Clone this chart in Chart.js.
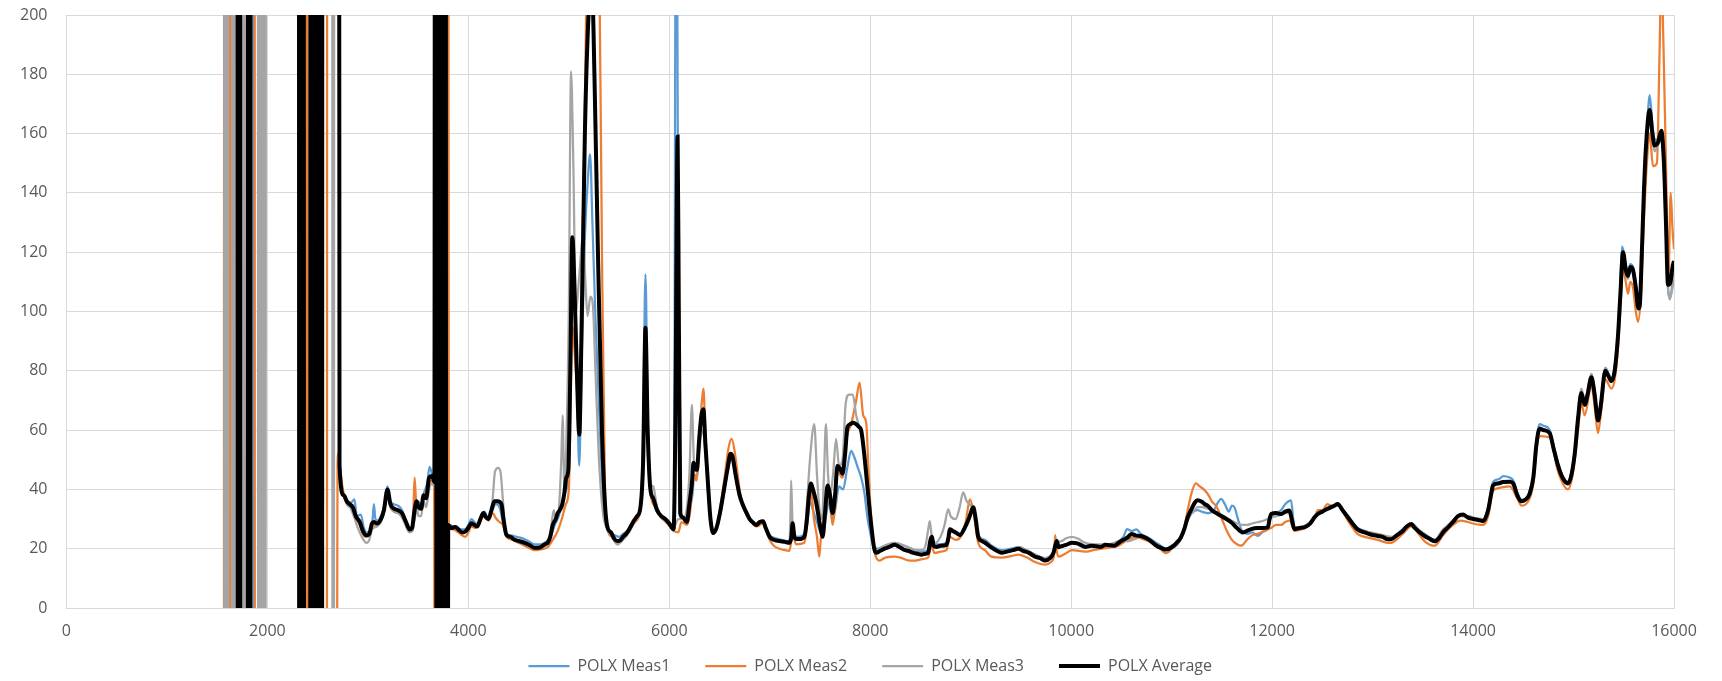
<!DOCTYPE html>
<html>
<head>
<meta charset="utf-8">
<title>POLX</title>
<script src="https://cdn.jsdelivr.net/npm/chart.js@4.4.1/dist/chart.umd.min.js"></script>
<style>
    body { margin: 0; background: #ffffff; }
    #contenedor { width: 1722px; height: 681px; }
</style>
</head>
<body>
<div id="contenedor"><canvas id="polxChart"></canvas></div>
<script>
// Ejes
const xTicks = [0, 16000, 2000];   // min, max, paso
const yTicks = [0, 200, 20];

const etiquetas = ['POLX Meas1', 'POLX Meas2', 'POLX Meas3', 'POLX Average'];

// Medicion 1 (puntos [x, y]); +-1000 = valores fuera de escala
const polxMeas1 = [
    [1845, 1000], [1852, -1000], [1860, 1000],
    [2700, 1000], [2716, 45], [2740, 41], [2770, 37], [2800, 36], [2830, 35.5], [2866, 36.6], [2890, 31], [2930, 31.5],
    [2960, 27], [2990, 25.5], [3020, 26], [3045, 29], [3060, 35], [3075, 30], [3100, 29.5], [3130, 31], [3160, 34],
    [3195, 41], [3225, 36], [3260, 35], [3300, 34.5], [3340, 33], [3380, 29], [3415, 27], [3445, 28], [3470, 33],
    [3500, 36], [3530, 35], [3560, 39], [3590, 42], [3614, 47.6], [3640, 45], [3660, 43],
    [3680, 1000], [3720, -1000], [3760, 1000], [3790, -1000],
    [3805, 28], [3840, 27.5], [3880, 27.5], [3920, 26.5], [3960, 26.5], [4000, 28], [4030, 30], [4060, 29], [4100, 28],
    [4130, 30.5], [4160, 32.5], [4200, 30], [4240, 33], [4270, 35], [4310, 34], [4345, 29], [4380, 25], [4430, 24.5],
    [4480, 24], [4540, 23.5], [4600, 22.5], [4660, 21.5], [4720, 21.5], [4780, 22.5], [4820, 24], [4860, 28], [4900, 31],
    [4940, 36], [4975, 40], [4995, 44], [5015, 80], [5035, 118], [5060, 100], [5085, 70], [5104, 48], [5125, 80],
    [5160, 125], [5190, 145], [5212, 153], [5235, 130], [5265, 98], [5300, 68], [5340, 38], [5384, 27], [5420, 25],
    [5460, 24.5], [5500, 24], [5540, 25], [5580, 26], [5620, 28], [5670, 30.5], [5713, 34], [5740, 60], [5763, 112.5],
    [5785, 65], [5812, 42], [5850, 37], [5900, 32], [5960, 30], [6010, 28.5], [6045, 26], [6070, 300], [6098, 32],
    [6135, 30], [6175, 28.5], [6200, 33], [6230, 38], [6250, 45], [6275, 44], [6300, 55], [6330, 64], [6345, 63],
    [6370, 48], [6395, 35], [6438, 26], [6480, 28], [6520, 34], [6560, 42], [6600, 50], [6630, 50.5], [6670, 43],
    [6720, 36], [6770, 32], [6820, 29.5], [6870, 28.5], [6933, 29.5], [6960, 27], [7000, 24.5], [7060, 23.5], [7120, 23],
    [7196, 22.5], [7228, 27], [7262, 24], [7330, 24.5], [7370, 28], [7400, 36], [7430, 33], [7460, 30], [7500, 26],
    [7530, 25], [7560, 31], [7590, 36], [7620, 30], [7650, 33], [7690, 41], [7730, 40], [7770, 47], [7810, 53],
    [7840, 51], [7880, 47], [7910, 44], [7943, 38.6], [7970, 31], [7993, 26.6], [8030, 21], [8070, 20], [8143, 21],
    [8243, 22], [8300, 21.5], [8376, 20.5], [8450, 19.5], [8509, 19], [8576, 19.5], [8610, 23], [8640, 21.5], [8700, 21.5],
    [8759, 22], [8792, 26], [8850, 25.5], [8900, 25], [8950, 27.5], [8990, 31], [9025, 34], [9075, 24.5], [9142, 23],
    [9210, 21], [9308, 19.5], [9400, 20], [9474, 20.5], [9560, 19.5], [9641, 18], [9741, 16.5], [9800, 17.5], [9824, 19],
    [9857, 22.5], [9880, 21], [9950, 21.5], [10007, 22], [10080, 22], [10140, 21], [10220, 21.5], [10300, 21],
    [10380, 21.5], [10470, 22.5], [10520, 24], [10556, 26.6], [10600, 26], [10650, 26.5], [10694, 25], [10750, 24],
    [10800, 23], [10870, 21.5], [10944, 20], [11000, 21], [11060, 22.5], [11100, 25], [11140, 28], [11180, 31],
    [11220, 32.5], [11259, 33], [11300, 32.5], [11359, 32], [11420, 33], [11460, 35.5], [11492, 36.8], [11530, 35],
    [11570, 32.5], [11600, 34.5], [11625, 34], [11660, 30], [11700, 26], [11760, 25], [11800, 25.5], [11858, 24.3],
    [11900, 25.5], [11957, 27], [11990, 31], [12040, 32], [12090, 33], [12130, 35], [12189, 36.3], [12210, 30],
    [12223, 27], [12300, 27.5], [12380, 29], [12455, 32], [12520, 33], [12588, 34], [12654, 35], [12700, 33.5],
    [12754, 31], [12850, 27], [12920, 26], [13053, 24.5], [13186, 23.5], [13300, 26.5], [13385, 28.5], [13470, 26],
    [13518, 24.8], [13618, 23], [13700, 26], [13751, 27.5], [13800, 29.5], [13870, 31], [13950, 31], [14000, 30.5],
    [14100, 29.5], [14150, 34], [14199, 42.5], [14260, 43.5], [14300, 44.5], [14365, 44], [14400, 43], [14440, 39],
    [14481, 36.5], [14530, 37], [14564, 39.5], [14600, 45], [14630, 56], [14663, 62], [14700, 61.5], [14763, 60],
    [14800, 55], [14846, 49], [14890, 44.5], [14945, 42.5], [14980, 46], [15012, 53], [15045, 65], [15078, 73],
    [15111, 70], [15140, 73], [15178, 79], [15210, 73], [15244, 64], [15270, 69], [15317, 81], [15350, 79], [15377, 77.5],
    [15410, 82], [15443, 94], [15465, 108], [15483, 122], [15520, 116], [15542, 113], [15565, 116], [15592, 115],
    [15620, 109], [15645, 102], [15670, 108], [15700, 135], [15730, 160], [15758, 173], [15785, 163], [15808, 158],
    [15840, 158], [15874, 161], [15900, 148], [15920, 128], [15945, 106], [15965, 105], [15985, 110], [16000, 113]
];

// Medicion 2
const polxMeas2 = [
    [1565, -1000], [1572, 1000], [1580, -1000],
    [1610, -1000], [1622, 1000], [1634, -1000],
    [1680, -1000], [1692, 1000],
    [1870, 1000], [1880, -1000],
    [2378, -1000], [2390, 1000], [2402, -1000],
    [2588, -1000], [2598, 1000],
    [2650, 1000], [2662, -1000],
    [2700, 52], [2730, 45], [2760, 38], [2800, 35], [2850, 33], [2880, 30], [2920, 28], [2950, 25], [2985, 24],
    [3015, 24.5], [3040, 27.5], [3090, 28], [3130, 29.5], [3160, 32], [3195, 39], [3225, 34], [3260, 32.5], [3300, 32],
    [3340, 31], [3380, 28], [3415, 26], [3440, 27], [3455, 35], [3465, 44], [3480, 36], [3505, 34], [3555, 37],
    [3610, 42], [3640, 43], [3660, 41],
    [3680, -1000], [3720, 1000], [3760, -1000], [3790, 1000],
    [3805, 27], [3850, 26.5], [3900, 25.5], [3940, 24.5], [3970, 24], [4000, 25.5], [4030, 27.5], [4070, 27],
    [4120, 29], [4150, 31], [4200, 29.5], [4240, 32], [4280, 30], [4310, 29], [4345, 28], [4380, 24], [4440, 23],
    [4500, 22], [4560, 21], [4620, 20], [4660, 19.5], [4720, 19.8], [4790, 20.5], [4840, 23], [4890, 26], [4930, 30],
    [4970, 35], [5000, 40], [5035, 95], [5070, 80], [5104, 65], [5130, 110], [5160, 170], [5190, 240], [5250, 280],
    [5300, 230], [5330, 120], [5360, 40], [5390, 26], [5430, 24], [5483, 21.5], [5540, 23.5], [5600, 26], [5660, 29],
    [5713, 33], [5740, 45], [5763, 80], [5790, 50], [5812, 39], [5860, 34], [5920, 30.5], [5980, 28.5], [6043, 26],
    [6090, 25.5], [6120, 29], [6175, 28], [6210, 33], [6241, 45], [6270, 43], [6300, 58], [6325, 70], [6340, 74],
    [6360, 58], [6389, 40], [6420, 27], [6438, 25], [6470, 27], [6504, 33], [6550, 44], [6590, 54], [6620, 57],
    [6650, 53], [6700, 40], [6735, 34], [6800, 30], [6867, 27.5], [6933, 28.5], [6999, 23], [7040, 21], [7097, 20],
    [7150, 19.5], [7196, 19.3], [7228, 25], [7262, 21.5], [7344, 22], [7390, 34], [7410, 40], [7440, 30], [7470, 24],
    [7493, 17.3], [7510, 24], [7540, 30], [7575, 38], [7600, 36], [7625, 28], [7650, 34], [7674, 46], [7724, 44],
    [7770, 58], [7810, 62], [7860, 70], [7894, 76], [7930, 65], [7960, 62.5], [7985, 45], [8010, 30], [8050, 18],
    [8093, 16], [8150, 17], [8243, 17.3], [8300, 17], [8393, 16], [8450, 16], [8520, 16.5], [8576, 17], [8610, 21],
    [8640, 18.5], [8700, 19], [8759, 19.5], [8792, 24], [8850, 23], [8900, 24], [8950, 29], [8992, 36.6], [9025, 33],
    [9075, 22], [9142, 19.5], [9208, 17.3], [9308, 17], [9400, 17.5], [9474, 18], [9560, 17], [9641, 15.5],
    [9741, 14.6], [9800, 15.5], [9830, 18], [9841, 24.6], [9858, 19], [9874, 17.3], [9950, 18.5], [10007, 19.5],
    [10140, 19], [10220, 19.5], [10300, 20], [10400, 20.5], [10470, 21], [10562, 23], [10650, 24], [10694, 23.5],
    [10800, 22], [10900, 19.5], [10944, 18.5], [11000, 20], [11050, 22.5], [11093, 24], [11130, 28], [11160, 33],
    [11200, 39], [11242, 42], [11280, 41], [11320, 40], [11359, 38.5], [11400, 36], [11450, 34], [11500, 30],
    [11550, 26], [11600, 23], [11650, 21.5], [11691, 21], [11750, 23], [11800, 24.5], [11860, 25], [11920, 26],
    [11957, 26.5], [11990, 27], [12040, 28], [12090, 28], [12130, 29], [12173, 29.5], [12223, 26], [12322, 27],
    [12420, 30], [12455, 33], [12500, 33], [12550, 35], [12588, 34.5], [12654, 35], [12754, 29.5], [12850, 25],
    [12920, 24], [13053, 23], [13150, 22], [13186, 22], [13300, 25], [13385, 27.5], [13470, 24.5], [13518, 22.5],
    [13618, 21], [13700, 24.5], [13751, 26.5], [13800, 28], [13870, 29.5], [13950, 29], [14000, 28.5], [14100, 28],
    [14150, 31], [14199, 39.5], [14260, 40.5], [14365, 41], [14440, 37], [14481, 34.5], [14564, 37], [14600, 42],
    [14630, 53], [14663, 58], [14763, 57.5], [14846, 46], [14945, 40], [14980, 43], [15012, 50], [15045, 60],
    [15078, 69], [15111, 65], [15178, 75], [15210, 68], [15244, 59], [15270, 65], [15317, 77], [15377, 74],
    [15410, 77], [15443, 88], [15465, 100], [15493, 115], [15520, 110], [15542, 106], [15565, 110], [15592, 108],
    [15620, 100], [15642, 96.5], [15670, 105], [15700, 130], [15730, 150], [15758, 160], [15791, 149], [15830, 150],
    [15855, 185], [15874, 215], [15895, 190], [15920, 150], [15945, 112], [15967, 140], [15985, 128], [16000, 121]
];

// Medicion 3
const polxMeas3 = [
    [1565, 1000], [1580, -1000], [1600, 1000], [1620, -1000],
    [1640, -1000], [1655, 1000], [1670, -1000], [1690, 1000],
    [1750, 1000], [1770, -1000], [1790, 1000],
    [1900, 1000], [1915, -1000], [1930, 1000], [1945, -1000], [1960, 1000], [1975, -1000], [1990, 1000],
    [2640, 1000], [2655, -1000], [2670, 1000],
    [2700, 1000], [2722, 45], [2750, 39], [2790, 35], [2830, 33.5], [2860, 31], [2900, 27], [2940, 24], [2985, 22],
    [3015, 23], [3040, 26.5], [3090, 27.5], [3130, 29], [3160, 32], [3195, 39], [3225, 34], [3260, 32.5], [3300, 32],
    [3340, 30.5], [3380, 27.5], [3415, 25.5], [3445, 26], [3465, 30], [3490, 33], [3505, 31], [3530, 31], [3555, 36],
    [3580, 34], [3610, 40], [3640, 42], [3660, 41],
    [3680, 1000], [3720, -1000], [3760, 1000], [3790, -1000],
    [3805, 28], [3850, 27.5], [3900, 26.5], [3940, 25.5], [3970, 25.5], [4000, 27], [4030, 28.5], [4060, 28],
    [4120, 30], [4150, 32], [4200, 30], [4240, 36], [4265, 46], [4296, 47.3], [4320, 46], [4345, 36], [4370, 26],
    [4420, 23.5], [4480, 22.5], [4540, 21.8], [4600, 21], [4660, 20.3], [4720, 20.5], [4790, 22], [4820, 26],
    [4850, 33], [4870, 30], [4900, 33], [4925, 50], [4939, 65], [4955, 40], [4975, 55], [5000, 100], [5022, 181],
    [5045, 150], [5070, 100], [5104, 112], [5140, 125], [5165, 110], [5186, 98.5], [5215, 105], [5240, 102],
    [5265, 80], [5300, 50], [5340, 32], [5384, 26.5], [5420, 24.5], [5483, 21.5], [5540, 23], [5600, 25.5],
    [5660, 29.5], [5713, 34], [5740, 55], [5763, 88], [5785, 60], [5812, 42], [5840, 41], [5878, 34], [5940, 30],
    [6000, 28.5], [6043, 27], [6090, 30], [6125, 30], [6160, 31], [6200, 45], [6225, 68.5], [6245, 50], [6274, 46],
    [6300, 54], [6330, 60], [6345, 58], [6370, 48], [6395, 35], [6438, 25], [6470, 27], [6504, 31], [6540, 38],
    [6580, 46], [6620, 50], [6660, 44], [6700, 37], [6770, 31.5], [6840, 28.5], [6900, 29], [6933, 29], [6999, 23.5],
    [7097, 22.5], [7196, 22], [7205, 30], [7213, 43], [7225, 30], [7245, 23.5], [7300, 23], [7344, 24], [7370, 35],
    [7400, 50], [7443, 62], [7470, 45], [7490, 35], [7520, 30], [7540, 45], [7559, 62], [7580, 45], [7600, 38],
    [7630, 45], [7660, 57], [7690, 48], [7724, 50], [7756, 69], [7790, 72], [7827, 72], [7860, 65], [7900, 60],
    [7940, 52], [7980, 38], [8010, 28], [8040, 20], [8060, 19.5], [8143, 21], [8243, 22], [8300, 21.5], [8376, 20.5],
    [8450, 19.5], [8509, 19.5], [8550, 21], [8575, 26], [8592, 29.3], [8610, 25], [8650, 22], [8700, 24], [8740, 28],
    [8776, 33.3], [8800, 31], [8850, 30], [8890, 34], [8925, 39], [8960, 36], [8990, 35], [9025, 33], [9075, 25],
    [9142, 22.5], [9210, 20.5], [9308, 19], [9400, 19.5], [9474, 20.5], [9560, 19.5], [9641, 18], [9741, 16.8],
    [9824, 19], [9857, 22], [9900, 22.5], [9950, 23.5], [10007, 24], [10060, 23.5], [10140, 22], [10220, 21.5],
    [10300, 21.5], [10400, 21.5], [10470, 22.5], [10520, 23], [10562, 22.5], [10650, 23.5], [10694, 24], [10750, 23.5],
    [10800, 22.5], [10870, 20.5], [10944, 19.8], [11000, 20], [11060, 21.5], [11100, 24], [11140, 28], [11180, 31.5],
    [11230, 33], [11259, 34], [11300, 34], [11359, 33.5], [11420, 33], [11459, 32], [11520, 31], [11592, 29.5],
    [11650, 28.5], [11708, 28], [11750, 28], [11800, 28.5], [11860, 29], [11920, 29.5], [11957, 30], [11990, 30.5],
    [12040, 31], [12090, 31.5], [12130, 32], [12173, 32], [12223, 27], [12322, 27.5], [12420, 30.5], [12455, 32],
    [12550, 33], [12654, 34.5], [12754, 30.5], [12850, 27], [12920, 26], [12980, 25.5], [13053, 25], [13186, 24],
    [13300, 26.5], [13385, 28.5], [13470, 26], [13518, 25], [13618, 23], [13700, 26.5], [13751, 28], [13800, 29.5],
    [13870, 31], [13950, 31], [14000, 30.5], [14100, 30], [14150, 33.5], [14199, 41.5], [14260, 42], [14365, 42.5],
    [14440, 38.5], [14481, 36.5], [14564, 39], [14600, 44], [14630, 55], [14663, 60.5], [14763, 59], [14846, 48.5],
    [14945, 42], [14980, 45.5], [15012, 52.5], [15045, 65], [15078, 74], [15111, 70], [15178, 79], [15210, 73],
    [15244, 64], [15270, 69], [15317, 81], [15377, 77], [15410, 80], [15443, 91], [15465, 104], [15493, 118],
    [15520, 113], [15542, 111], [15565, 114], [15592, 113], [15620, 107], [15645, 102], [15670, 110], [15700, 140],
    [15730, 158], [15758, 166], [15785, 158], [15808, 154], [15840, 156], [15874, 158], [15900, 146], [15920, 125],
    [15940, 108], [15957, 104], [15985, 108], [16000, 112]
];

// Promedio
const polxAverage = [
    [1700, 1000], [1712, -1000], [1724, 1000], [1736, -1000],
    [1800, -1000], [1812, 1000], [1824, -1000], [1836, 1000],
    [2310, 1000], [2322, -1000], [2334, 1000], [2346, -1000], [2358, 1000], [2370, -1000],
    [2420, -1000], [2432, 1000], [2444, -1000], [2456, 1000], [2468, -1000], [2480, 1000], [2492, -1000],
    [2504, 1000], [2516, -1000], [2528, 1000], [2540, -1000], [2550, 1000],
    [2700, 1000], [2718, 48], [2760, 38], [2790, 36], [2820, 35], [2850, 34], [2880, 31], [2920, 29], [2950, 26],
    [2985, 24.5], [3015, 25], [3040, 28.5], [3060, 29], [3090, 28.5], [3130, 30], [3160, 33], [3195, 40], [3225, 35],
    [3260, 33.5], [3300, 33], [3340, 32], [3380, 29], [3415, 26.5], [3440, 27], [3465, 33], [3485, 36], [3505, 34],
    [3530, 33.5], [3555, 38], [3580, 37], [3610, 44], [3640, 44.5], [3662, 42.5],
    [3676, 1000], [3688, -1000], [3700, 1000], [3712, -1000], [3724, 1000], [3736, -1000], [3748, 1000],
    [3760, -1000], [3772, 1000], [3784, -1000],
    [3800, 28], [3830, 27], [3870, 27.3], [3900, 26.5], [3940, 25.5], [3970, 25.8], [4000, 27], [4030, 28.6],
    [4060, 28], [4090, 27.5], [4120, 30], [4150, 32], [4175, 30.6], [4200, 30], [4230, 33], [4260, 36], [4290, 36],
    [4330, 35], [4350, 30], [4380, 24.6], [4420, 24], [4460, 23], [4500, 22.6], [4560, 22], [4620, 21], [4660, 20.3],
    [4720, 20.5], [4760, 21.5], [4790, 22], [4815, 24], [4840, 28], [4870, 30], [4890, 32], [4910, 33], [4935, 35],
    [4955, 38.6], [4975, 44], [4995, 46.6], [5015, 80], [5035, 125], [5055, 110], [5080, 80], [5104, 58.5],
    [5130, 100], [5160, 160], [5190, 195], [5210, 205], [5235, 205], [5255, 180], [5290, 120], [5330, 60], [5360, 35],
    [5384, 27.3], [5420, 25.5], [5450, 23.5], [5483, 22.6], [5510, 22.8], [5540, 24], [5570, 25], [5600, 26.5],
    [5640, 29], [5680, 31], [5713, 34], [5740, 50], [5763, 94.5], [5785, 60], [5812, 40], [5840, 37], [5878, 33],
    [5920, 31], [5960, 30], [6000, 28.5], [6043, 26.6], [6060, 60], [6083, 159], [6095, 100], [6110, 32],
    [6135, 30.6], [6175, 29], [6200, 35], [6225, 42], [6241, 49], [6260, 47], [6274, 46.6], [6300, 58], [6320, 65],
    [6340, 67], [6360, 55], [6389, 40], [6410, 30], [6438, 25.3], [6470, 27], [6504, 32], [6540, 39], [6580, 47],
    [6610, 52], [6630, 51], [6660, 45], [6700, 38], [6735, 34.6], [6770, 32], [6800, 30], [6840, 28.6], [6867, 28],
    [6900, 29], [6933, 29.3], [6960, 27], [6999, 24], [7040, 23], [7097, 22.6], [7150, 22.3], [7196, 22], [7215, 24],
    [7228, 28.6], [7245, 24], [7262, 23.3], [7300, 23.3], [7344, 24], [7370, 30], [7390, 38], [7410, 42], [7430, 40],
    [7460, 36], [7490, 30], [7510, 26], [7526, 24], [7550, 32], [7575, 41.3], [7600, 38], [7625, 32], [7650, 38],
    [7674, 48], [7700, 47], [7724, 45.3], [7750, 52], [7773, 61], [7800, 62], [7830, 62.5], [7860, 62], [7890, 61],
    [7910, 60], [7940, 52], [7980, 38], [8010, 28], [8040, 20], [8060, 18.6], [8100, 19.3], [8143, 20], [8190, 20.6],
    [8243, 21.3], [8290, 20.6], [8340, 19.6], [8376, 19.3], [8430, 18.6], [8470, 18.3], [8509, 18], [8550, 18.3],
    [8576, 18.6], [8600, 23], [8615, 24], [8630, 21], [8660, 20.6], [8700, 21], [8759, 21.3], [8780, 24],
    [8792, 26.6], [8820, 26], [8850, 25.5], [8892, 24.6], [8940, 27], [8980, 30], [9010, 33], [9025, 34], [9050, 30],
    [9075, 24], [9110, 22.6], [9142, 22], [9200, 20.5], [9250, 19.5], [9308, 18.6], [9360, 19], [9420, 19.5],
    [9474, 20], [9520, 19.3], [9580, 18.6], [9641, 17.3], [9690, 16.8], [9741, 16], [9790, 16.8], [9824, 18.6],
    [9845, 21.5], [9857, 22.6], [9875, 20.5], [9900, 20.8], [9950, 21.3], [10007, 22], [10060, 21.8], [10140, 20.6],
    [10200, 21], [10296, 20.6], [10340, 21.3], [10429, 21], [10473, 22], [10520, 23], [10562, 23.8], [10600, 25],
    [10640, 24.5], [10694, 24.3], [10750, 23.5], [10794, 22.5], [10850, 21], [10900, 20.2], [10944, 19.7],
    [11000, 20.5], [11050, 22], [11093, 23.8], [11130, 27], [11160, 30.6], [11200, 33.5], [11230, 35.5],
    [11259, 36.3], [11300, 35.8], [11330, 35], [11359, 34.5], [11400, 33], [11459, 31.7], [11520, 30.5],
    [11592, 28.9], [11650, 27], [11708, 25.5], [11750, 26], [11791, 26.6], [11850, 27], [11900, 27], [11957, 27.2],
    [11975, 30], [11990, 31.7], [12040, 32], [12090, 31.7], [12130, 32.5], [12173, 32.9], [12195, 30], [12223, 26.6],
    [12270, 27], [12322, 27.2], [12380, 28.5], [12420, 30.5], [12455, 31.7], [12500, 32.5], [12550, 33.5],
    [12588, 34], [12620, 34.5], [12654, 35.1], [12700, 33], [12754, 30.6], [12800, 28.5], [12850, 26.5],
    [12920, 25.5], [12980, 24.8], [13053, 24.3], [13100, 24], [13150, 23.2], [13186, 23.2], [13240, 24.5],
    [13300, 26], [13340, 27.5], [13385, 28.3], [13420, 27], [13470, 25.5], [13518, 24.3], [13560, 23.5],
    [13618, 22.5], [13660, 23.5], [13700, 25.5], [13751, 27.2], [13800, 29], [13850, 31], [13900, 31.5],
    [13950, 30.5], [14000, 30], [14050, 29.7], [14100, 29.3], [14150, 33], [14183, 39], [14199, 41.3], [14250, 42],
    [14300, 42.5], [14365, 42.6], [14400, 42], [14440, 38], [14481, 36], [14520, 36.5], [14564, 38.6], [14600, 44],
    [14630, 55], [14663, 60.5], [14700, 60], [14763, 59], [14800, 54], [14846, 48], [14890, 44], [14945, 42],
    [14980, 45], [15012, 52], [15045, 64], [15078, 72.5], [15111, 68.5], [15140, 72], [15178, 77.8], [15210, 72],
    [15244, 63.2], [15270, 68], [15317, 80], [15350, 78], [15377, 76.5], [15410, 80], [15443, 92], [15465, 105],
    [15493, 120], [15520, 114], [15542, 112], [15565, 115], [15592, 114], [15620, 108], [15645, 101], [15659, 102],
    [15680, 120], [15700, 140], [15720, 155], [15758, 168], [15785, 160], [15808, 156], [15840, 157], [15874, 161],
    [15900, 150], [15920, 130], [15940, 109], [15965, 110], [15985, 115], [16000, 117]
];

const colores = ['#5b9bd5', '#ed7d31', '#a5a5a5', '#000000'];
const grosores = [2.25, 2.25, 2.25, 4];
const series = [polxMeas1, polxMeas2, polxMeas3, polxAverage];

Chart.defaults.font.family = "'Open Sans', 'Liberation Sans', sans-serif";
Chart.defaults.font.size = 16;
Chart.defaults.color = '#595959';

// Armar datasets (el promedio se dibuja encima)
function crearDatasets() {
    return series.map((datos, i) => ({
        label: etiquetas[i],
        data: datos,
        borderColor: colores[i],
        backgroundColor: colores[i],
        borderWidth: grosores[i],
        pointRadius: 0,
        pointHoverRadius: 0,
        pointStyle: 'line',
        cubicInterpolationMode: 'monotone',
        fill: false,
        clip: 0,
        order: series.length - i
    }));
}

const ctx = document.getElementById('polxChart').getContext('2d');
new Chart(ctx, {
    type: 'line',
    data: { datasets: crearDatasets() },
    options: {
        responsive: true,
        maintainAspectRatio: false,
        devicePixelRatio: 1,
        animation: false,
        layout: { padding: { left: 1, right: 48, top: 15, bottom: -3 } },
        plugins: {
            tooltip: { enabled: false },
            legend: {
                position: 'bottom',
                fullSize: false,
                labels: {
                    usePointStyle: true,
                    pointStyle: 'line',
                    pointStyleWidth: 41,
                    padding: 35,
                    color: '#595959',
                    font: { size: 16 },
                    sort: (a, b) => a.datasetIndex - b.datasetIndex
                }
            }
        },
        scales: {
            x: {
                type: 'linear',
                min: xTicks[0],
                max: xTicks[1],
                ticks: {
                    stepSize: xTicks[2],
                    // etiquetas debajo del eje sin recorte
                    mirror: true,
                    padding: -33,
                    color: '#595959',
                    callback: valor => String(valor)
                },
                grid: { color: '#d9d9d9', drawTicks: false },
                border: { color: '#d9d9d9' },
                afterFit: function (escala) { escala.height = 15; }
            },
            y: {
                min: yTicks[0],
                max: yTicks[1],
                ticks: {
                    stepSize: yTicks[2],
                    padding: 19,
                    color: '#595959',
                    callback: valor => String(valor)
                },
                grid: { color: '#d9d9d9', drawTicks: false },
                border: { color: '#d9d9d9' },
                afterFit: function (escala) {
                    escala.paddingTop = 8;
                    escala.paddingBottom = 8;
                }
            }
        }
    }
});
</script>
</body>
</html>
